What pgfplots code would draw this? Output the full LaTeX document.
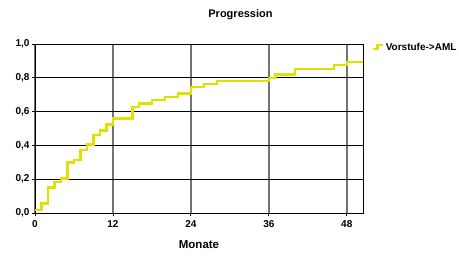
\documentclass[border=0pt]{standalone}
\usepackage{pgfplots}
\pgfplotsset{compat=1.18}
\usepackage{fontspec}
\setmainfont{Liberation Sans}
\definecolor{curve}{RGB}{225,225,0}
\definecolor{vgrid}{RGB}{115,115,115}
\begin{document}
\begin{tikzpicture}[x=1bp,y=1bp]
\path[use as bounding box] (0,0) rectangle (459,255);
\node[font=\bfseries\fontsize{11bp}{13bp}\selectfont] at (240.5,240) {Progression};
\begin{axis}[
  at={(35bp,42bp)}, anchor=south west,
  scale only axis, width=328bp, height=169bp,
  xmin=0, xmax=50.5, ymin=0, ymax=1,
  xtick={0,12,24,36,48}, ytick={0,0.2,0.4,0.6,0.8,1.0},
  yticklabels={0{,}0,0{,}2,0{,}4,0{,}6,0{,}8,1{,}0},
  /pgf/number format/assume math mode=true,
  tick label style={font=\bfseries\fontsize{10bp}{12bp}\selectfont},
  yticklabel style={xshift=1bp},
  xticklabel style={yshift=-1bp},
  tick align=outside, tick pos=left, major tick length=3bp,
  tick style={black, line width=0.8bp},
  xmajorgrids, ymajorgrids,
  x grid style={vgrid, line width=1.5bp},
  y grid style={black, line width=0.8bp},
  axis line style={black, line width=0.9bp},
  xlabel={Monate},
  xlabel style={font=\bfseries\fontsize{11.5bp}{13bp}\selectfont, yshift=-6bp},
  legend style={at={(1.025,1.02)}, anchor=north west, draw=none, fill=none,
    font=\bfseries\fontsize{10bp}{12bp}\selectfont, inner sep=0pt,
    legend cell align=left},
  legend image code/.code={
    \draw[#1] (0bp,-2bp) -- (5bp,-2bp) -- (5bp,2bp) -- (10bp,2bp);
  },
  legend style={/tikz/every even column/.append style={column sep=1bp}},
]
\addplot[const plot mark left, curve, line width=2.4bp, no marks] coordinates {
(0,0.018) (1,0.057) (2,0.150) (3,0.185) (4,0.205) (5,0.298) (6,0.314)
(7,0.373) (8,0.406) (9,0.463) (10,0.487) (11,0.523) (12,0.558)
(15,0.629) (16,0.649) (18,0.668) (20,0.686) (22,0.708) (24,0.744)
(26,0.763) (28,0.781) (36,0.800) (37,0.820) (40,0.852) (46,0.876)
(48,0.893) (50.5,0.893)
};
\addlegendentry{Vorstufe->AML}
\end{axis}
\end{tikzpicture}
\end{document}
